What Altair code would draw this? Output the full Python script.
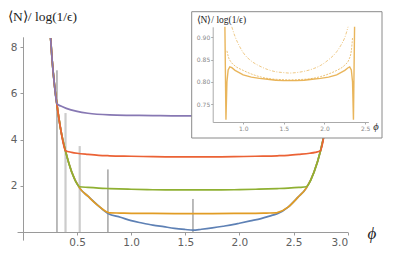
import altair as alt
import pandas as pd

# ---------------- main chart data ----------------
env_left_phi = [0.255, 0.27, 0.29, 0.314, 0.35, 0.393, 0.45, 0.524, 0.6, 0.7, 0.785, 0.9, 1.0, 1.1, 1.2, 1.3, 1.4, 1.5, 1.571]
env_left_val = [8.4, 7.4, 6.4, 5.5, 4.4, 3.5, 2.6, 1.9, 1.55, 1.12, 0.8, 0.64, 0.49, 0.39, 0.30, 0.23, 0.16, 0.11, 0.08]
env_right_phi = [1.65, 1.75, 1.85, 1.95, 2.0, 2.1, 2.2, 2.3, 2.356, 2.45, 2.54, 2.618, 2.69, 2.749, 2.79, 2.828, 2.85, 2.87, 2.887]
env_right_val = [0.12, 0.18, 0.25, 0.33, 0.38, 0.48, 0.58, 0.72, 0.8, 1.08, 1.5, 1.9, 2.6, 3.5, 4.4, 5.5, 6.4, 7.4, 8.4]

purple_phi = [0.314, 0.35, 0.4, 0.5, 0.6, 0.8, 1.0, 1.2, 1.4, 1.571, 1.75, 1.95, 2.15, 2.35, 2.55, 2.64, 2.74, 2.79, 2.828]
purple_val = [5.55, 5.45, 5.35, 5.22, 5.14, 5.07, 5.05, 5.04, 5.03, 5.03, 5.03, 5.04, 5.05, 5.07, 5.14, 5.22, 5.35, 5.45, 5.55]
red_phi = [0.393, 0.45, 0.5, 0.6, 0.7, 0.8, 1.0, 1.2, 1.4, 1.571, 1.75, 1.95, 2.15, 2.35, 2.45, 2.55, 2.65, 2.7, 2.749]
red_val = [3.52, 3.45, 3.41, 3.36, 3.32, 3.30, 3.28, 3.26, 3.25, 3.25, 3.25, 3.26, 3.28, 3.30, 3.32, 3.36, 3.41, 3.45, 3.52]
green_phi = [0.524, 0.6, 0.7, 0.8, 1.0, 1.2, 1.4, 1.571, 1.75, 1.95, 2.15, 2.35, 2.45, 2.55, 2.618]
green_val = [1.96, 1.93, 1.90, 1.88, 1.85, 1.83, 1.82, 1.82, 1.82, 1.83, 1.85, 1.88, 1.90, 1.93, 1.96]
orange_phi = [0.785, 0.8, 0.9, 1.0, 1.2, 1.4, 1.571, 1.75, 1.95, 2.15, 2.25, 2.34, 2.356]
orange_val = [0.85, 0.83, 0.82, 0.81, 0.805, 0.80, 0.80, 0.80, 0.805, 0.81, 0.82, 0.83, 0.85]

rule_phi = [0.314, 0.393, 0.524, 0.785, 1.571]
rule_top = [7.0, 5.15, 3.72, 2.71, 1.43]
rule_base = [0.0, 0.0, 0.0, 0.0, 0.0]
rule_shade = ["dark", "light", "light", "dark", "dark"]

x_ticks = [0.5, 1.0, 1.5, 2.0, 2.5, 3.0]
y_ticks = [2, 4, 6, 8]

# ---------------- inset data ----------------
upper_phi = [0.86, 0.9, 0.95, 1.0, 1.1, 1.2, 1.3, 1.4, 1.5, 1.571, 1.65, 1.75, 1.85, 1.95, 2.05, 2.15, 2.2, 2.25, 2.29]
upper_val = [0.924, 0.902, 0.882, 0.866, 0.847, 0.836, 0.828, 0.823, 0.821, 0.820, 0.821, 0.824, 0.829, 0.837, 0.850, 0.868, 0.882, 0.900, 0.924]
middle_phi = [0.80, 0.82, 0.85, 0.9, 1.0, 1.1, 1.2, 1.3, 1.4, 1.571, 1.75, 1.85, 1.95, 2.05, 2.15, 2.25, 2.3, 2.33, 2.345]
middle_val = [0.870, 0.855, 0.845, 0.836, 0.826, 0.818, 0.812, 0.808, 0.806, 0.805, 0.806, 0.808, 0.812, 0.818, 0.826, 0.838, 0.850, 0.870, 0.900]
band_phi = [0.775, 0.788, 0.80, 0.815, 0.835, 0.86, 0.9, 1.0, 1.1, 1.2, 1.3, 1.4, 1.5, 1.571, 1.65, 1.75, 1.85, 1.95, 2.05, 2.15, 2.25, 2.29, 2.31, 2.33, 2.345, 2.356, 2.37]
band_val = [0.924, 0.715, 0.800, 0.827, 0.834, 0.832, 0.826, 0.816, 0.811, 0.808, 0.806, 0.804, 0.803, 0.803, 0.803, 0.804, 0.806, 0.808, 0.811, 0.816, 0.826, 0.832, 0.834, 0.827, 0.800, 0.715, 0.924]

inset_x_ticks = [1.0, 1.5, 2.0, 2.5]
inset_y_ticks = [0.75, 0.80, 0.85, 0.90]

main_title = "⟨N⟩/ log(1/ϵ)"

# ---------------- build tables ----------------
def branch(p_phi, p_val):
    lp = [p for p in env_left_phi if p < p_phi[0]]
    lv = env_left_val[:len(lp)]
    rp = [p for p in env_right_phi if p > p_phi[-1]]
    rv = env_right_val[len(env_right_phi) - len(rp):]
    phis = lp + p_phi + rp
    vals = lv + p_val + rv
    return pd.DataFrame({"phi": phis, "val": vals, "ord": list(range(len(phis)))})

blue_df = pd.DataFrame({"phi": env_left_phi + env_right_phi,
                        "val": env_left_val + env_right_val})
blue_df["ord"] = range(len(blue_df))

series = [
    ("#5E81B5", blue_df),
    ("#E19C24", branch(orange_phi, orange_val)),
    ("#8FB032", branch(green_phi, green_val)),
    ("#EB6235", branch(red_phi, red_val)),
    ("#8778B3", branch(purple_phi, purple_val)),
]

rules_df = pd.DataFrame({"phi": rule_phi, "top": rule_top, "base": rule_base, "shade": rule_shade})

xs_main = alt.Scale(domain=[-0.055, 3.0], range=[9.05, 339.6], nice=False, zero=False)
ys_main = alt.Scale(domain=[-0.35, 8.45], range=[232.1, 28.8], nice=False, zero=False)

ax_common = dict(title=None, grid=False, domainColor="#9a9a9a", tickColor="#9a9a9a",
                 labelColor="#606060", labelFont="DejaVu Sans", labelFontSize=10.5, zindex=0)
x_axis_main = alt.Axis(values=x_ticks, format=".1f", orient="bottom", offset=-24,
                       tickSize=3, labelPadding=2, **ax_common)
y_axis_main = alt.Axis(values=y_ticks, format="d", orient="left", offset=-15,
                       tickSize=3, labelPadding=3, **ax_common)

def X(field):
    return alt.X(field, type="quantitative", scale=xs_main, axis=x_axis_main)

def Y(field):
    return alt.Y(field, type="quantitative", scale=ys_main, axis=y_axis_main)

main_layers = []
for shade, col, w in [("light", "#cccccc", 2.2), ("dark", "#777777", 1)]:
    main_layers.append(
        alt.Chart(rules_df).transform_filter(alt.datum.shade == shade)
        .mark_rule(color=col, strokeWidth=w)
        .encode(x=X("phi"), y=Y("base"), y2="top")
    )
for col, df in series:
    main_layers.append(
        alt.Chart(df).mark_line(color=col, strokeWidth=1.7, interpolate="monotone")
        .encode(x=X("phi"), y=Y("val"), order="ord:Q")
    )

main_layers.append(
    alt.Chart(pd.DataFrame({"t": [main_title]}))
    .mark_text(align="left", baseline="middle", font="Liberation Serif", fontSize=13.5, color="#222")
    .encode(text="t:N", x=alt.value(0), y=alt.value(9))
)
main_layers.append(
    alt.Chart(pd.DataFrame({"t": ["ϕ"]}))
    .mark_text(align="center", baseline="middle", font="Liberation Serif", fontSize=17,
               fontStyle="italic", color="#222")
    .encode(text="t:N", x=alt.value(364), y=alt.value(226))
)

main = alt.layer(*main_layers)

# ---------------- inset ----------------
xs_in = alt.Scale(domain=[0.625, 2.54], range=[204.7, 360.4], nice=False, zero=False)
ys_in = alt.Scale(domain=[0.71, 0.924], range=[114, 18.8], nice=False, zero=False)
in_common = dict(title=None, grid=False, domainColor="#aaaaaa", tickColor="#aaaaaa",
                 labelColor="#888888", labelFont="DejaVu Sans", labelFontSize=6, zindex=1,
                 tickSize=2, labelPadding=1)
x_axis_in = alt.Axis(values=inset_x_ticks, format=".1f", orient="bottom", offset=-134, **in_common)
y_axis_in = alt.Axis(values=inset_y_ticks, format=".2f", orient="left", offset=-204.7, **in_common)

def XI(field):
    return alt.X(field, type="quantitative", scale=xs_in, axis=x_axis_in)

def YI(field):
    return alt.Y(field, type="quantitative", scale=ys_in, axis=y_axis_in)

upper_df = pd.DataFrame({"phi": upper_phi, "val": upper_val, "ord": range(len(upper_phi))})
middle_df = pd.DataFrame({"phi": middle_phi, "val": middle_val, "ord": range(len(middle_phi))})
band_df = pd.DataFrame({"phi": band_phi, "val": band_val, "ord": range(len(band_phi))})

box = alt.Chart(pd.DataFrame({"a": [0]})).mark_rect(
    fill="white", stroke="#8a8a8a", strokeWidth=1
).encode(x=alt.value(183.7), x2=alt.value(374), y=alt.value(3.7), y2=alt.value(130))

inset_layers = [
    box,
    alt.Chart(upper_df).mark_line(color="#E19C24", strokeWidth=1, opacity=0.55,
                                  strokeDash=[3, 1.5, 1, 1.5], interpolate="monotone")
    .encode(x=XI("phi"), y=YI("val"), order="ord:Q"),
    alt.Chart(middle_df).mark_line(color="#E19C24", strokeWidth=1, opacity=0.6,
                                   strokeDash=[2, 1.2], interpolate="monotone")
    .encode(x=XI("phi"), y=YI("val"), order="ord:Q"),
    alt.Chart(band_df).mark_line(color="#E19C24", strokeWidth=1.4, opacity=0.75)
    .encode(x=XI("phi"), y=YI("val"), order="ord:Q"),
    alt.Chart(pd.DataFrame({"t": [main_title]}))
    .mark_text(align="left", baseline="middle", font="Liberation Serif", fontSize=9.5, color="#222")
    .encode(text="t:N", x=alt.value(188.5), y=alt.value(12)),
    alt.Chart(pd.DataFrame({"t": ["ϕ"]}))
    .mark_text(align="center", baseline="middle", font="Liberation Serif", fontSize=10.5,
               fontStyle="italic", color="#222")
    .encode(text="t:N", x=alt.value(368), y=alt.value(118.5)),
]
inset = alt.layer(*inset_layers)

chart = alt.layer(main, inset).resolve_scale(x="independent", y="independent").properties(
    width=378, height=248, padding=0, autosize=alt.AutoSizeParams(type="none")
).configure_view(stroke=None)

chart.save("out.html", embed_options={"renderer": "svg", "actions": False})
